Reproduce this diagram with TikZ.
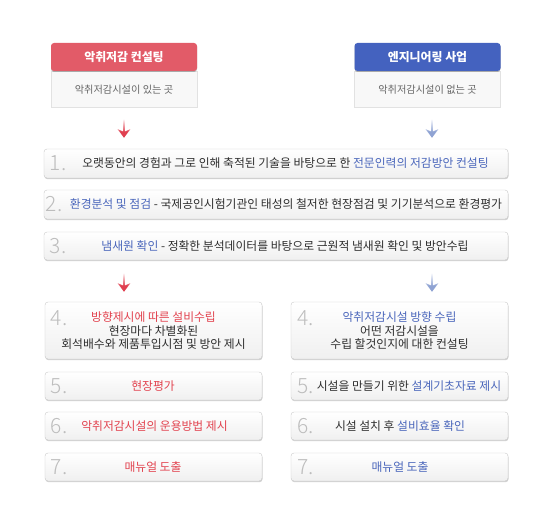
\documentclass[tikz,border=0pt]{standalone}
\usepackage{fontspec}
\setmainfont{Noto Sans CJK KR}
\newfontfamily\numfont{Noto Sans CJK KR Light}
\usetikzlibrary{arrows.meta,shadows,fadings}
\definecolor{redH}{HTML}{E25B68}
\definecolor{bluH}{HTML}{4462BF}
\definecolor{redT}{HTML}{E2434F}
\definecolor{bluT}{HTML}{4A66BB}
\definecolor{bodyT}{HTML}{2E2E2E}
\definecolor{subT}{HTML}{666666}
\definecolor{numT}{HTML}{BDBDBD}
\definecolor{boxB}{HTML}{C9C9C9}
\definecolor{subB}{HTML}{E2E2E2}
\definecolor{subF}{HTML}{F8F8F8}
\definecolor{arrR}{HTML}{E04050}
\definecolor{arrB}{HTML}{8FA3D3}
\tikzfading[name=arrowfade, top color=transparent!100, middle color=transparent!35, bottom color=transparent!0]
\begin{document}
\begin{tikzpicture}[x=1bp,y=-1bp,
  header/.style={rounded corners=3bp, fill=#1, minimum width=146bp, minimum height=28bp,
     text=white, font=\fontsize{11.9bp}{13bp}\selectfont\bfseries, inner sep=0pt,
     drop shadow={shadow xshift=0bp, shadow yshift=-1bp, opacity=.25, fill=black}},
  subbox/.style={draw=subB, fill=subF, minimum width=146bp, minimum height=36bp, inner sep=0pt},
  subtext/.style={text=subT, font=\fontsize{10.2bp}{11bp}\selectfont, inner sep=0pt},
  stepbox/.style={draw=boxB, rounded corners=3bp, top color=white, bottom color=black!6,
     minimum width=#1, inner sep=0pt,
     drop shadow={shadow xshift=0.5bp, shadow yshift=-1.2bp, opacity=.18, fill=black}},
  steptext/.style={text=bodyT, font=\fontsize{11.8bp}{13.5bp}\selectfont, inner sep=0pt, align=center},
  num/.style={text=numT, font=\numfont\fontsize{21bp}{22bp}\selectfont, inner sep=0pt, anchor=base west},
  flow/.style 2 args={draw=#1, line width=1.6bp, -{Stealth[length=8.5bp,width=12.5bp,inset=2.5bp]},
     path fading=arrowfade, fit fading=false, fading transform={shift={#2}, yscale=0.27}}
]
\useasboundingbox (0,0) rectangle (550,509);

% headers
\node[subbox] (subL) at (124,89) {};
\node[subtext] (subLt) at (124,90) {악취저감시설이 있는 곳};
\node[header=redH] (hL) at (124,57) {악취저감 컨설팅};
\node[subbox] (subR) at (427.5,89) {};
\node[subtext] (subRt) at (427.5,90) {악취저감시설이 없는 곳};
\node[header=bluH] (hR) at (427.5,57) {엔지니어링 사업};

\coordinate (xL) at (124,0);
\coordinate (xR) at (432,0);

% full width steps
\node[stepbox=464bp, minimum height=29bp] (b1) at (276,163.5) {};
\node[stepbox=464bp, minimum height=29bp] (b2) at (276,204.5) {};
\node[stepbox=464bp, minimum height=28bp] (b3) at (276,246) {};

\node[num] (n1) at ([xshift=6bp]b1.west |- 0,171) {1.};
\node[num] (n2) at ([xshift=2bp]b2.west |- 0,212) {2.};
\node[num] (n3) at ([xshift=6bp]b3.west |- 0,253.5) {3.};

\node[steptext] (t1) at (285.5,163.5) {오랫동안의 경험과 그로 인해 축적된 기술을 바탕으로 한 {\color{bluT}전문인력의 저감방안 컨설팅}};
\node[steptext] (t2) at (286,204.5) {{\color{bluT}환경분석 및 점검} - 국제공인시험기관인 태성의 철저한 현장점검 및 기기분석으로 환경평가};
\node[steptext] (t3) at (285,246) {{\color{bluT}냄새원 확인} - 정확한 분석데이터를 바탕으로 근원적 냄새원 확인 및 방안수립};

% left column
\node[stepbox=217bp, minimum height=57bp] (L4) at (153.5,330.5) {};
\node[stepbox=217bp, minimum height=28bp] (L5) at (153.5,386) {};
\node[stepbox=217bp, minimum height=28bp] (L6) at (153.5,426) {};
\node[stepbox=217bp, minimum height=28bp] (L7) at (153.5,467) {};
\node[num] (nL4) at ([xshift=6bp]L4.west |- 0,325) {4.};
\node[num] (nL5) at ([xshift=6bp]L5.west |- 0,393.5) {5.};
\node[num] (nL6) at ([xshift=6bp]L6.west |- 0,433.5) {6.};
\node[num] (nL7) at ([xshift=6bp]L7.west |- 0,474.5) {7.};
\node[steptext] (tL4) at (153.5,331) {{\color{redT}방향제시에 따른 설비수립}\\현장마다 차별화된\\회석배수와 제품투입시점 및 방안 제시};
\node[steptext, text=redT] (tL5) at (153,386) {현장평가};
\node[steptext, text=redT] (tL6) at (154.5,426) {악취저감시설의 운용방법 제시};
\node[steptext, text=redT] (tL7) at (153,467) {매뉴얼 도출};

% right column
\node[stepbox=217bp, minimum height=57bp] (R4) at (399.5,330.5) {};
\node[stepbox=217bp, minimum height=28bp] (R5) at (399.5,386) {};
\node[stepbox=217bp, minimum height=28bp] (R6) at (399.5,426) {};
\node[stepbox=217bp, minimum height=28bp] (R7) at (399.5,467) {};
\node[num] (nR4) at ([xshift=6bp]R4.west |- 0,325) {4.};
\node[num] (nR5) at ([xshift=6bp]R5.west |- 0,393.5) {5.};
\node[num] (nR6) at ([xshift=6bp]R6.west |- 0,433.5) {6.};
\node[num] (nR7) at ([xshift=6bp]R7.west |- 0,474.5) {7.};
\node[steptext] (tR4) at (399.5,331) {{\color{bluT}악취저감시설 방향 수립}\\어떤 저감시설을\\수립 할것인지에 대한 컨설팅};
\node[steptext] (tR5) at (409,386) {시설을 만들기 위한 {\color{bluT}설계기초자료 제시}};
\node[steptext] (tR6) at (400,426) {시설 설치 후 {\color{bluT}설비효율 확인}};
\node[steptext, text=bluT] (tR7) at (400,467) {매뉴얼 도출};

% arrows
\draw[flow={arrR}{(124,125.5)}, shorten <=6bp, shorten >=11bp] (subL.south -| xL) -- (b1.north -| xL);
\draw[flow={arrB}{(432,125.5)}, shorten <=6bp, shorten >=11bp] (subR.south -| xR) -- (b1.north -| xR);
\draw[flow={arrR}{(124,279.5)}, shorten <=7bp, shorten >=10bp] (b3.south -| xL) -- (L4.north -| xL);
\draw[flow={arrB}{(432,279.5)}, shorten <=7bp, shorten >=10bp] (b3.south -| xR) -- (R4.north -| xR);
\end{tikzpicture}
\end{document}
